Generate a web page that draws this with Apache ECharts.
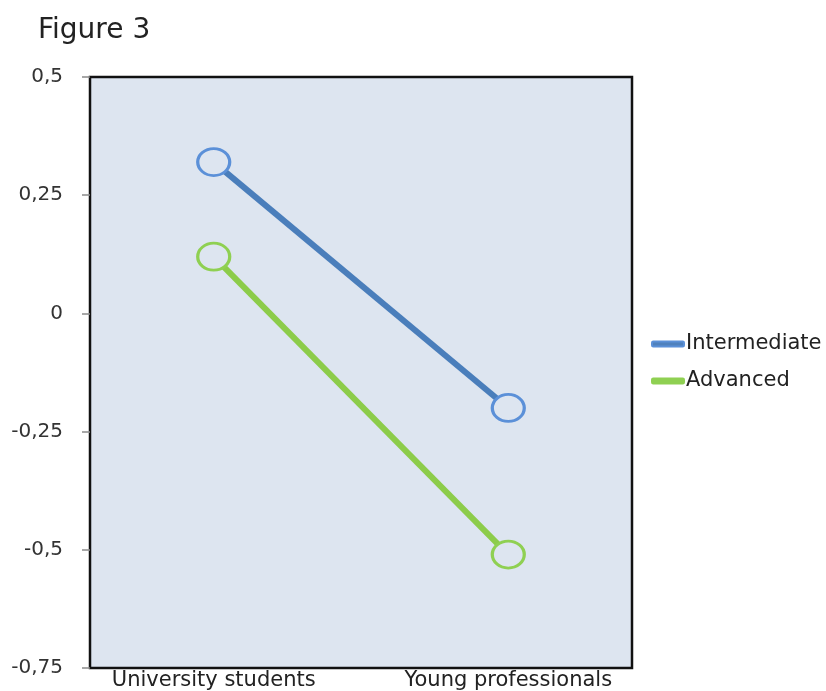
<!DOCTYPE html>
<html>
<head>
<meta charset="utf-8">
<script src="https://cdn.jsdelivr.net/npm/echarts@6/dist/echarts.min.js"></script>
<style>
  html, body { margin: 0; padding: 0; background: #ffffff; }
  #chart { width: 826px; height: 691px; }
</style>
</head>
<body>
<div id="chart"></div>
<script>
// Groups along the horizontal axis
const groups = ['University students', 'Young professionals'];
// Mean scores per proficiency level
const intermediate = [0.32, -0.2];
const advanced = [0.12, -0.51];
// Vertical axis range
const yMin = -0.75;
const yMax = 0.5;
const yStep = 0.25;

const FONT = '"DejaVu Sans", "Noto Sans", sans-serif';
const PLOT_BG = '#dde5f0';

const chart = echarts.init(document.getElementById('chart'), null, { renderer: 'canvas' });

function toPoints(values) {
  return values.map((v, i) => [i, v]);
}

function lineSeries(name, values, lineColor, markerColor) {
  return {
    name: name,
    type: 'line',
    data: toPoints(values),
    symbol: 'circle',
    symbolSize: [32, 27],
    z: 3,
    lineStyle: { color: lineColor, width: 6 },
    itemStyle: { color: PLOT_BG, borderColor: markerColor, borderWidth: 3 },
    emphasis: { disabled: true }
  };
}

chart.setOption({
  animation: false,
  backgroundColor: '#ffffff',
  title: {
    text: 'Figure 3',
    left: 33,
    top: 12,
    textStyle: { fontFamily: FONT, fontSize: 28, fontWeight: 'normal', color: '#222222' }
  },
  legend: {
    orient: 'vertical',
    left: 646,
    top: 327,
    itemGap: 13,
    itemWidth: 32,
    itemHeight: 5,
    icon: 'roundRect',
    data: [
      { name: 'Intermediate', itemStyle: { color: '#4f81bd' } },
      { name: 'Advanced', itemStyle: { color: '#8fd052' } }
    ],
    textStyle: { fontFamily: FONT, fontSize: 21, lineHeight: 24, color: '#222222', padding: [0, 0, 0, -3] }
  },
  grid: {
    left: 90,
    top: 77,
    right: 194,
    bottom: 23,
    show: true,
    backgroundColor: PLOT_BG,
    borderColor: '#111111',
    borderWidth: 2.5
  },
  xAxis: {
    type: 'value',
    min: -0.42,
    max: 1.42,
    splitLine: { show: false },
    axisLine: { show: false },
    axisTick: { show: false },
    axisLabel: {
      customValues: [0, 1],
      formatter: (v) => groups[Math.round(v)],
      fontFamily: FONT,
      fontSize: 21,
      color: '#222222',
      margin: 2
    }
  },
  yAxis: {
    type: 'value',
    min: yMin,
    max: yMax,
    interval: yStep,
    splitLine: { show: false },
    axisLine: { show: false, onZero: false },
    axisTick: { show: true, length: 8, lineStyle: { color: '#8a8a8a', width: 1.5 } },
    axisLabel: {
      fontFamily: FONT,
      fontSize: 20,
      color: '#333333',
      margin: 27,
      formatter: (v) => String(Math.round(v * 100) / 100).replace('.', ',')
    }
  },
  series: [
    lineSeries('Intermediate', intermediate, '#4a7ebb', '#5b90d8'),
    lineSeries('Advanced', advanced, '#8ccc4a', '#8fd052')
  ]
});
</script>
</body>
</html>
